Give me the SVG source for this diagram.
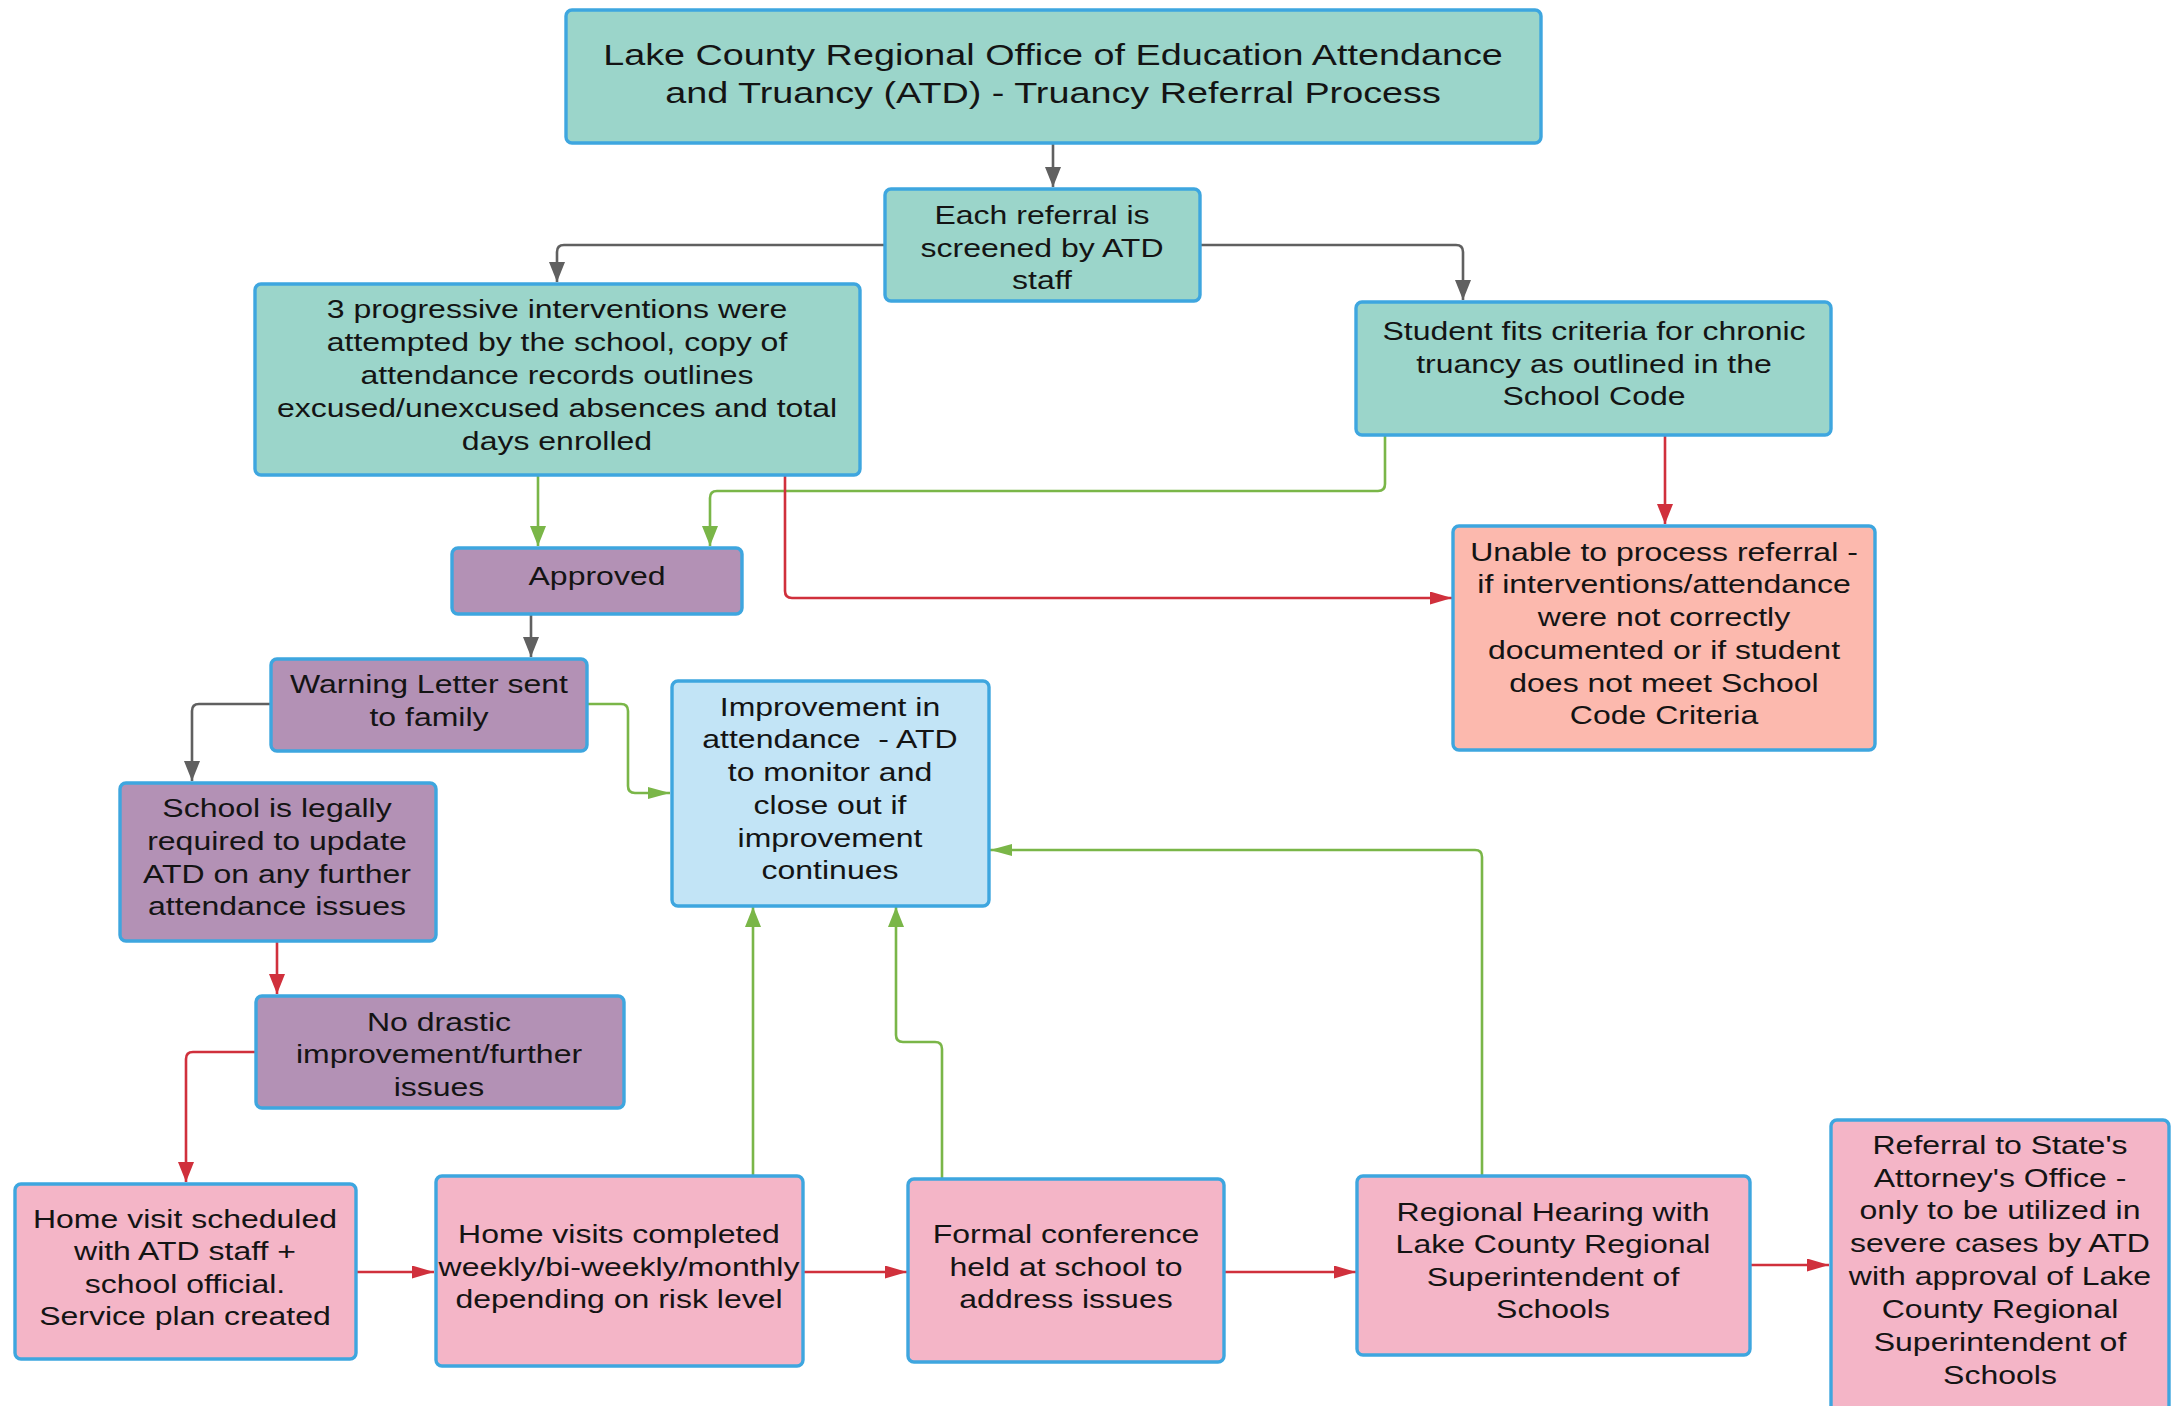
<svg xmlns="http://www.w3.org/2000/svg" width="2173" height="1406" viewBox="0 0 2173 1406">
<style>
.t{font-family:"Liberation Sans",Arial,sans-serif;font-size:25px;fill:#141414;text-anchor:middle}
.title{font-size:29.5px}
.box{stroke:#3ea6df;stroke-width:3.4}
.teal{fill:#9bd5ca}
.purple{fill:#b391b5}
.salmon{fill:#fcb9ae}
.lblue{fill:#c2e4f6}
.pink{fill:#f4b5c7}
.c{fill:none;stroke-width:2.6;stroke-linejoin:round}
.gray{stroke:#606060}
.green{stroke:#7ab648}
.red{stroke:#d0303c}
</style>
<defs>
<marker id="gv" markerUnits="userSpaceOnUse" markerWidth="20" markerHeight="16" refX="20" refY="8" orient="auto"><path d="M0,0 L20,8 L0,16 z" fill="#606060"/></marker>
<marker id="gnv" markerUnits="userSpaceOnUse" markerWidth="20" markerHeight="16" refX="20" refY="8" orient="auto"><path d="M0,0 L20,8 L0,16 z" fill="#7ab648"/></marker>
<marker id="gnh" markerUnits="userSpaceOnUse" markerWidth="22" markerHeight="12" refX="22" refY="6" orient="auto"><path d="M0,0 L22,6 L0,12 z" fill="#7ab648"/></marker>
<marker id="rv" markerUnits="userSpaceOnUse" markerWidth="20" markerHeight="16" refX="20" refY="8" orient="auto"><path d="M0,0 L20,8 L0,16 z" fill="#d0303c"/></marker>
<marker id="rh" markerUnits="userSpaceOnUse" markerWidth="22" markerHeight="13" refX="22" refY="6.5" orient="auto"><path d="M0,0 L22,6.5 L0,13 z" fill="#d0303c"/></marker>
</defs>
<rect width="2173" height="1406" fill="#ffffff"/>

<g id="connectors">
<path class="c gray" d="M1053,144 V187" marker-end="url(#gv)"/>
<path class="c gray" d="M884,245 H564 Q557,245 557,252 V282" marker-end="url(#gv)"/>
<path class="c gray" d="M1201,245 H1456 Q1463,245 1463,252 V300" marker-end="url(#gv)"/>
<path class="c green" d="M538,476 V546" marker-end="url(#gnv)"/>
<path class="c green" d="M1385,436 V484 Q1385,491 1378,491 H717 Q710,491 710,498 V546" marker-end="url(#gnv)"/>
<path class="c red" d="M785,476 V591 Q785,598 792,598 H1452" marker-end="url(#rh)"/>
<path class="c red" d="M1665,436 V524" marker-end="url(#rv)"/>
<path class="c gray" d="M531,615 V657" marker-end="url(#gv)"/>
<path class="c gray" d="M270,704 H199 Q192,704 192,711 V781" marker-end="url(#gv)"/>
<path class="c green" d="M588,704 H621 Q628,704 628,711 V786 Q628,793 635,793 H670" marker-end="url(#gnh)"/>
<path class="c red" d="M277,942 V994" marker-end="url(#rv)"/>
<path class="c red" d="M255,1052 H193 Q186,1052 186,1059 V1182" marker-end="url(#rv)"/>
<path class="c green" d="M753,1175 V907" marker-end="url(#gnv)"/>
<path class="c green" d="M942,1178 V1049 Q942,1042 935,1042 H903 Q896,1042 896,1035 V907" marker-end="url(#gnv)"/>
<path class="c green" d="M1482,1175 V857 Q1482,850 1475,850 H990" marker-end="url(#gnh)"/>
<path class="c red" d="M357,1272 H434" marker-end="url(#rh)"/>
<path class="c red" d="M804,1272 H907" marker-end="url(#rh)"/>
<path class="c red" d="M1225,1272 H1356" marker-end="url(#rh)"/>
<path class="c red" d="M1751,1265 H1829" marker-end="url(#rh)"/>
</g>

<g id="n-title">
<rect class="box teal" x="566" y="10" width="975" height="133" rx="6"/>
<text class="t title" transform="translate(1053,0) scale(1.28,1)"><tspan x="0" y="65">Lake County Regional Office of Education Attendance</tspan><tspan x="0" y="103">and Truancy (ATD) - Truancy Referral Process</tspan></text>
</g>

<g id="n-screen">
<rect class="box teal" x="885" y="189" width="315" height="112" rx="6"/>
<text class="t" transform="translate(1042,0) scale(1.28,1)"><tspan x="0" y="224">Each referral is</tspan><tspan x="0" y="257">screened by ATD</tspan><tspan x="0" y="289">staff</tspan></text>
</g>

<g id="n-interv">
<rect class="box teal" x="255" y="284" width="605" height="191" rx="6"/>
<text class="t" transform="translate(557,0) scale(1.28,1)"><tspan x="0" y="318">3 progressive interventions were</tspan><tspan x="0" y="351">attempted by the school, copy of</tspan><tspan x="0" y="384">attendance records outlines</tspan><tspan x="0" y="417">excused/unexcused absences and total</tspan><tspan x="0" y="450">days enrolled</tspan></text>
</g>

<g id="n-student">
<rect class="box teal" x="1356" y="302" width="475" height="133" rx="6"/>
<text class="t" transform="translate(1594,0) scale(1.28,1)"><tspan x="0" y="340">Student fits criteria for chronic</tspan><tspan x="0" y="373">truancy as outlined in the</tspan><tspan x="0" y="405">School Code</tspan></text>
</g>

<g id="n-approved">
<rect class="box purple" x="452" y="548" width="290" height="66" rx="6"/>
<text class="t" transform="translate(597,0) scale(1.28,1)"><tspan x="0" y="585">Approved</tspan></text>
</g>

<g id="n-unable">
<rect class="box salmon" x="1453" y="526" width="422" height="224" rx="6"/>
<text class="t" transform="translate(1664,0) scale(1.28,1)"><tspan x="0" y="561">Unable to process referral -</tspan><tspan x="0" y="593">if interventions/attendance</tspan><tspan x="0" y="626">were not correctly</tspan><tspan x="0" y="659">documented or if student</tspan><tspan x="0" y="692">does not meet School</tspan><tspan x="0" y="724">Code Criteria</tspan></text>
</g>

<g id="n-warning">
<rect class="box purple" x="271" y="659" width="316" height="92" rx="6"/>
<text class="t" transform="translate(429,0) scale(1.28,1)"><tspan x="0" y="693">Warning Letter sent</tspan><tspan x="0" y="726">to family</tspan></text>
</g>

<g id="n-improve">
<rect class="box lblue" x="672" y="681" width="317" height="225" rx="6"/>
<text class="t" transform="translate(830,0) scale(1.28,1)"><tspan x="0" y="716">Improvement in</tspan><tspan x="0" y="748">attendance&#160; - ATD</tspan><tspan x="0" y="781">to monitor and</tspan><tspan x="0" y="814">close out if</tspan><tspan x="0" y="847">improvement</tspan><tspan x="0" y="879">continues</tspan></text>
</g>

<g id="n-school">
<rect class="box purple" x="120" y="783" width="316" height="158" rx="6"/>
<text class="t" transform="translate(277,0) scale(1.28,1)"><tspan x="0" y="817">School is legally</tspan><tspan x="0" y="850">required to update</tspan><tspan x="0" y="883">ATD on any further</tspan><tspan x="0" y="915">attendance issues</tspan></text>
</g>

<g id="n-nodrastic">
<rect class="box purple" x="256" y="996" width="368" height="112" rx="6"/>
<text class="t" transform="translate(439,0) scale(1.28,1)"><tspan x="0" y="1031">No drastic</tspan><tspan x="0" y="1063">improvement/further</tspan><tspan x="0" y="1096">issues</tspan></text>
</g>

<g id="n-homesched">
<rect class="box pink" x="15" y="1184" width="341" height="175" rx="6"/>
<text class="t" transform="translate(185,0) scale(1.28,1)"><tspan x="0" y="1228">Home visit scheduled</tspan><tspan x="0" y="1260">with ATD staff +</tspan><tspan x="0" y="1293">school official.</tspan><tspan x="0" y="1325">Service plan created</tspan></text>
</g>

<g id="n-homevisits">
<rect class="box pink" x="436" y="1176" width="367" height="190" rx="6"/>
<text class="t" transform="translate(619,0) scale(1.28,1)"><tspan x="0" y="1243">Home visits completed</tspan><tspan x="0" y="1276">weekly/bi-weekly/monthly</tspan><tspan x="0" y="1308">depending on risk level</tspan></text>
</g>

<g id="n-formal">
<rect class="box pink" x="908" y="1179" width="316" height="183" rx="6"/>
<text class="t" transform="translate(1066,0) scale(1.28,1)"><tspan x="0" y="1243">Formal conference</tspan><tspan x="0" y="1276">held at school to</tspan><tspan x="0" y="1308">address issues</tspan></text>
</g>

<g id="n-hearing">
<rect class="box pink" x="1357" y="1176" width="393" height="179" rx="6"/>
<text class="t" transform="translate(1553,0) scale(1.28,1)"><tspan x="0" y="1221">Regional Hearing with</tspan><tspan x="0" y="1253">Lake County Regional</tspan><tspan x="0" y="1286">Superintendent of</tspan><tspan x="0" y="1318">Schools</tspan></text>
</g>

<g id="n-referral">
<rect class="box pink" x="1831" y="1120" width="338" height="300" rx="6"/>
<text class="t" transform="translate(2000,0) scale(1.28,1)"><tspan x="0" y="1154">Referral to State's</tspan><tspan x="0" y="1187">Attorney's Office -</tspan><tspan x="0" y="1219">only to be utilized in</tspan><tspan x="0" y="1252">severe cases by ATD</tspan><tspan x="0" y="1285">with approval of Lake</tspan><tspan x="0" y="1318">County Regional</tspan><tspan x="0" y="1351">Superintendent of</tspan><tspan x="0" y="1384">Schools</tspan></text>
</g>
</svg>
